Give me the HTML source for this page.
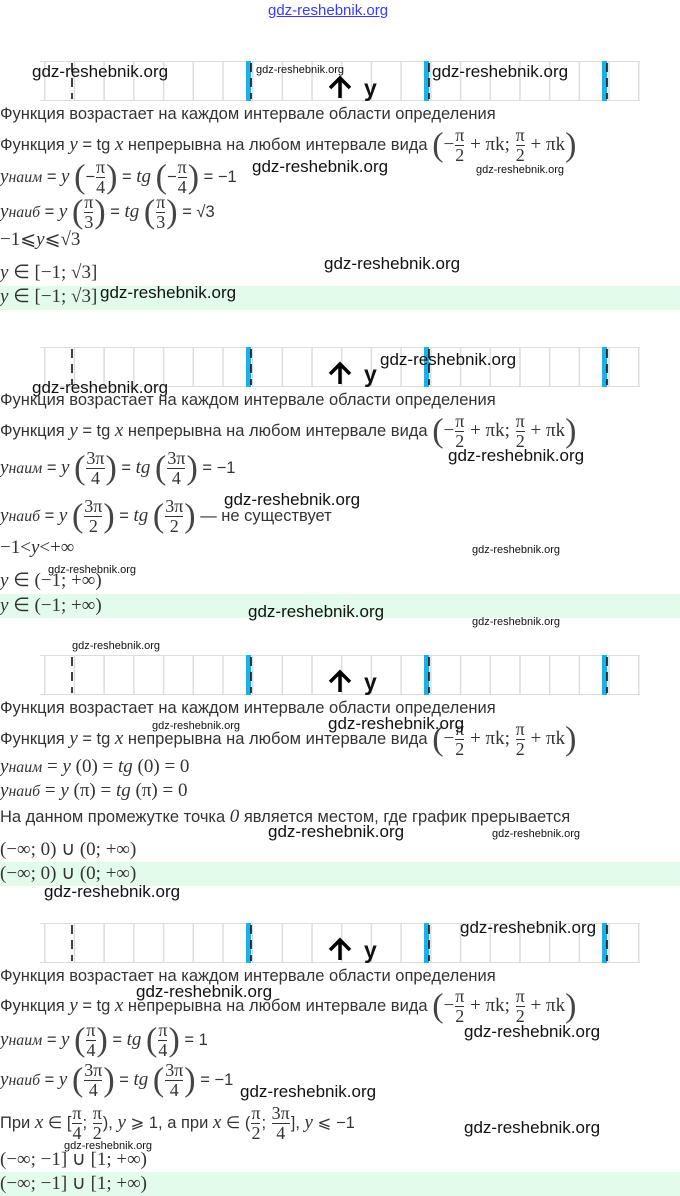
<!DOCTYPE html>
<html><head><meta charset="utf-8"><style>
body{margin:0;width:680px;height:1196px;background:#fff;position:relative;overflow:hidden;font-family:"Liberation Sans","DejaVu Sans",sans-serif;color:#333}
.t{position:absolute;left:0;white-space:nowrap;font-size:16.5px;line-height:18px}
.m{font-family:"Liberation Serif",serif;font-size:19px}
i{font-family:"Liberation Serif",serif;font-size:19px}
.g{position:absolute;left:0;width:680px;height:24px;background:#e3fbea}
.w{position:absolute;white-space:nowrap;color:#111;font-family:"Liberation Sans",sans-serif}
.fr{display:inline-block;vertical-align:middle;text-align:center;font-family:"Liberation Serif",serif;font-size:18px;line-height:19px;padding:0 1px}
.fr span{display:block}
.fr span:first-child{border-bottom:1px solid #333}
.p{font-family:"Liberation Serif",serif;font-size:34px;vertical-align:middle;color:#444;font-weight:100}
svg{position:absolute;left:0}
</style></head><body>
<div class="w" style="left:268px;top:2px;font-size:15px;color:#3a3aff;text-decoration:underline">gdz-reshebnik.org</div>

<svg width="680" height="40" style="top:61px" id="s1"></svg>
<svg width="680" height="40" style="top:347px" id="s2"></svg>
<svg width="680" height="40" style="top:655px" id="s3"></svg>
<svg width="680" height="40" style="top:923px" id="s4"></svg>

<!-- block 1 -->
<div class="t" style="top:105px">Функция возрастает на каждом интервале области определения</div>
<div class="t" style="top:126px">Функция <i>y</i> = tg <i>x</i> непрерывна на любом интервале вида <span class="p">(</span><span class="m">−</span><span class="fr"><span>π</span><span>2</span></span><span class="m"> + πk; </span><span class="fr"><span>π</span><span>2</span></span><span class="m"> + πk</span><span class="p">)</span></div>
<div class="t" style="top:158px"><i>y<small>наим</small></i> = <i>y</i> <span class="p">(</span>−<span class="fr"><span>π</span><span>4</span></span><span class="p">)</span> = <i>tg</i> <span class="p">(</span>−<span class="fr"><span>π</span><span>4</span></span><span class="p">)</span> = −1</div>
<div class="t" style="top:193px"><i>y<small>наиб</small></i> = <i>y</i> <span class="p">(</span><span class="fr"><span>π</span><span>3</span></span><span class="p">)</span> = <i>tg</i> <span class="p">(</span><span class="fr"><span>π</span><span>3</span></span><span class="p">)</span> = √3</div>
<div class="t m" style="top:231px">−1⩽<i>y</i>⩽√3</div>
<div class="t m" style="top:264px"><i>y</i> ∈ [−1; √3]</div>
<div class="g" style="top:286px"></div>
<div class="t m" style="top:288px"><i>y</i> ∈ [−1; √3]</div>

<!-- block 2 -->
<div class="t" style="top:391px">Функция возрастает на каждом интервале области определения</div>
<div class="t" style="top:412px">Функция <i>y</i> = tg <i>x</i> непрерывна на любом интервале вида <span class="p">(</span><span class="m">−</span><span class="fr"><span>π</span><span>2</span></span><span class="m"> + πk; </span><span class="fr"><span>π</span><span>2</span></span><span class="m"> + πk</span><span class="p">)</span></div>
<div class="t" style="top:449px"><i>y<small>наим</small></i> = <i>y</i> <span class="p">(</span><span class="fr"><span>3π</span><span>4</span></span><span class="p">)</span> = <i>tg</i> <span class="p">(</span><span class="fr"><span>3π</span><span>4</span></span><span class="p">)</span> = −1</div>
<div class="t" style="top:497px"><i>y<small>наиб</small></i> = <i>y</i> <span class="p">(</span><span class="fr"><span>3π</span><span>2</span></span><span class="p">)</span> = <i>tg</i> <span class="p">(</span><span class="fr"><span>3π</span><span>2</span></span><span class="p">)</span> — не существует</div>
<div class="t m" style="top:539px">−1&lt;<i>y</i>&lt;+∞</div>
<div class="t m" style="top:572px"><i>y</i> ∈ (−1; +∞)</div>
<div class="g" style="top:594px"></div>
<div class="t m" style="top:597px"><i>y</i> ∈ (−1; +∞)</div>

<!-- block 3 -->
<div class="t" style="top:699px">Функция возрастает на каждом интервале области определения</div>
<div class="t" style="top:720px">Функция <i>y</i> = tg <i>x</i> непрерывна на любом интервале вида <span class="p">(</span><span class="m">−</span><span class="fr"><span>π</span><span>2</span></span><span class="m"> + πk; </span><span class="fr"><span>π</span><span>2</span></span><span class="m"> + πk</span><span class="p">)</span></div>
<div class="t m" style="top:758px"><i>y<small>наим</small></i> = <i>y</i> (0) = <i>tg</i> (0) = 0</div>
<div class="t m" style="top:782px"><i>y<small>наиб</small></i> = <i>y</i> (π) = <i>tg</i> (π) = 0</div>
<div class="t" style="top:808px">На данном промежутке точка <i>0</i> является местом, где график прерывается</div>
<div class="t m" style="top:841px">(−∞; 0) ∪ (0; +∞)</div>
<div class="g" style="top:862px"></div>
<div class="t m" style="top:865px">(−∞; 0) ∪ (0; +∞)</div>

<!-- block 4 -->
<div class="t" style="top:967px">Функция возрастает на каждом интервале области определения</div>
<div class="t" style="top:987px">Функция <i>y</i> = tg <i>x</i> непрерывна на любом интервале вида <span class="p">(</span><span class="m">−</span><span class="fr"><span>π</span><span>2</span></span><span class="m"> + πk; </span><span class="fr"><span>π</span><span>2</span></span><span class="m"> + πk</span><span class="p">)</span></div>
<div class="t" style="top:1021px"><i>y<small>наим</small></i> = <i>y</i> <span class="p">(</span><span class="fr"><span>π</span><span>4</span></span><span class="p">)</span> = <i>tg</i> <span class="p">(</span><span class="fr"><span>π</span><span>4</span></span><span class="p">)</span> = 1</div>
<div class="t" style="top:1061px"><i>y<small>наиб</small></i> = <i>y</i> <span class="p">(</span><span class="fr"><span>3π</span><span>4</span></span><span class="p">)</span> = <i>tg</i> <span class="p">(</span><span class="fr"><span>3π</span><span>4</span></span><span class="p">)</span> = −1</div>
<div class="t" style="top:1104px">При <i>x</i> ∈ [<span class="fr"><span>π</span><span>4</span></span>; <span class="fr"><span>π</span><span>2</span></span>), <i>y</i> ⩾ 1, а при <i>x</i> ∈ (<span class="fr"><span>π</span><span>2</span></span>; <span class="fr"><span>3π</span><span>4</span></span>], <i>y</i> ⩽ −1</div>
<div class="t m" style="top:1151px">(−∞; −1] ∪ [1; +∞)</div>
<div class="g" style="top:1172px"></div>
<div class="t m" style="top:1175px">(−∞; −1] ∪ [1; +∞)</div>

<!-- watermarks -->
<div class="w" style="left:32px;top:62px;font-size:17px">gdz-reshebnik.org</div>
<div class="w" style="left:256px;top:64px;font-size:11px">gdz-reshebnik.org</div>
<div class="w" style="left:432px;top:62px;font-size:17px">gdz-reshebnik.org</div>
<div class="w" style="left:252px;top:157px;font-size:17px">gdz-reshebnik.org</div>
<div class="w" style="left:476px;top:164px;font-size:11px">gdz-reshebnik.org</div>
<div class="w" style="left:324px;top:254px;font-size:17px">gdz-reshebnik.org</div>
<div class="w" style="left:100px;top:283px;font-size:17px">gdz-reshebnik.org</div>
<div class="w" style="left:380px;top:350px;font-size:17px">gdz-reshebnik.org</div>
<div class="w" style="left:32px;top:378px;font-size:17px">gdz-reshebnik.org</div>
<div class="w" style="left:448px;top:446px;font-size:17px">gdz-reshebnik.org</div>
<div class="w" style="left:224px;top:490px;font-size:17px">gdz-reshebnik.org</div>
<div class="w" style="left:472px;top:544px;font-size:11px">gdz-reshebnik.org</div>
<div class="w" style="left:48px;top:564px;font-size:11px">gdz-reshebnik.org</div>
<div class="w" style="left:248px;top:602px;font-size:17px">gdz-reshebnik.org</div>
<div class="w" style="left:472px;top:616px;font-size:11px">gdz-reshebnik.org</div>
<div class="w" style="left:72px;top:640px;font-size:11px">gdz-reshebnik.org</div>
<div class="w" style="left:152px;top:720px;font-size:11px">gdz-reshebnik.org</div>
<div class="w" style="left:328px;top:714px;font-size:17px">gdz-reshebnik.org</div>
<div class="w" style="left:268px;top:822px;font-size:17px">gdz-reshebnik.org</div>
<div class="w" style="left:492px;top:828px;font-size:11px">gdz-reshebnik.org</div>
<div class="w" style="left:44px;top:882px;font-size:17px">gdz-reshebnik.org</div>
<div class="w" style="left:460px;top:918px;font-size:17px">gdz-reshebnik.org</div>
<div class="w" style="left:136px;top:982px;font-size:17px">gdz-reshebnik.org</div>
<div class="w" style="left:464px;top:1022px;font-size:17px">gdz-reshebnik.org</div>
<div class="w" style="left:240px;top:1082px;font-size:17px">gdz-reshebnik.org</div>
<div class="w" style="left:464px;top:1118px;font-size:17px">gdz-reshebnik.org</div>
<div class="w" style="left:64px;top:1140px;font-size:11px">gdz-reshebnik.org</div>

<script>
for(const id of ['s1','s2','s3','s4']){
 const s=document.getElementById(id);let h='<rect x="40" y="0" width="600" height="1" fill="#ddd"/><rect x="40" y="39" width="600" height="1" fill="#ddd"/>';
 for(let n=0;n<21;n++){const x=(44+29.7*n).toFixed(1);h+=`<rect x="${x}" y="0" width="1.5" height="40" fill="#ddd"/>`;}
 for(const x of [246,424,602])h+=`<rect x="${x}" y="0" width="5" height="40" fill="#1ab0e8"/><line x1="${x+5}" y1="2" x2="${x+5}" y2="38" stroke="#000" stroke-width="1.5" stroke-dasharray="9,6"/>`;
 h+=`<line x1="72" y1="2" x2="72" y2="38" stroke="#000" stroke-width="1.5" stroke-dasharray="9,6"/>`;
 h+=`<path d="M340 37 V19 M330 27 L340 17 L350 27" stroke="#000" stroke-width="3.5" fill="none"/><text x="364" y="35" font-family="Liberation Sans" font-size="23" font-weight="bold" fill="#111">y</text>`;
 s.innerHTML=h;}
</script>
</body></html>
